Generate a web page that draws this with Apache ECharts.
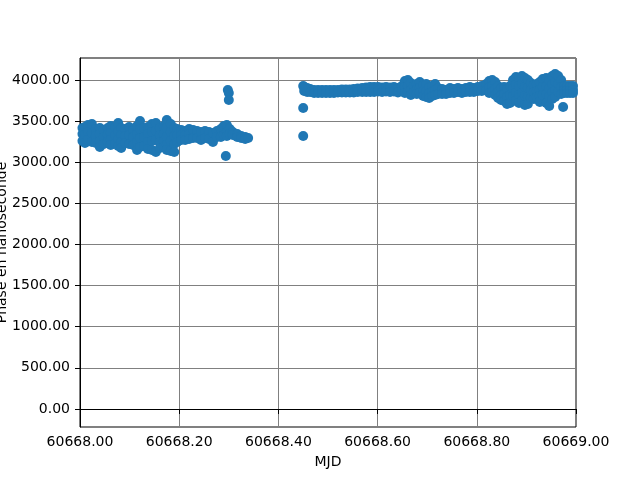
<!DOCTYPE html>
<html>
<head>
<meta charset="utf-8">
<script src="https://cdn.jsdelivr.net/npm/echarts@6/dist/echarts.min.js"></script>
<style>
  html, body { margin: 0; padding: 0; background: #fff; }
  #chart { width: 640px; height: 480px; }
</style>
</head>
<body>
<div id="chart"></div>
<script>
// values: for each MJD, the phases stacked at that time
const runATimes = [60668.005, 60668.010, 60668.016, 60668.024, 60668.032, 60668.040, 60668.048, 60668.056,
  60668.062, 60668.071, 60668.077, 60668.083, 60668.091, 60668.099, 60668.107, 60668.115, 60668.121,
  60668.129, 60668.137, 60668.145, 60668.153, 60668.161, 60668.169, 60668.175, 60668.183, 60668.190,
  60668.196, 60668.204, 60668.212, 60668.220, 60668.228, 60668.236, 60668.244, 60668.252, 60668.260,
  60668.268, 60668.276, 60668.284, 60668.290, 60668.296, 60668.302, 60668.308, 60668.317, 60668.325,
  60668.333, 60668.339];
const runAPhases = [
  [3416, 3343, 3258], [3429, 3331, 3234], [3453, 3368, 3271], [3465, 3356, 3246], [3404, 3319, 3234],
  [3416, 3343, 3258, 3185], [3392, 3307, 3222], [3416, 3331, 3246], [3441, 3356, 3271, 3210],
  [3429, 3331, 3234], [3477, 3380, 3283, 3198], [3416, 3331, 3246, 3173], [3404, 3319, 3234],
  [3429, 3331, 3222], [3392, 3307, 3210], [3441, 3343, 3246, 3149], [3501, 3404, 3295, 3185],
  [3416, 3307, 3198], [3429, 3343, 3246, 3161], [3465, 3368, 3258, 3149], [3477, 3380, 3271, 3125],
  [3416, 3331, 3246, 3173], [3441, 3343, 3258, 3185], [3514, 3416, 3307, 3210, 3149],
  [3465, 3368, 3258, 3137], [3416, 3319, 3222, 3125], [3404, 3331, 3246], [3392, 3331, 3271],
  [3380, 3331, 3271], [3404, 3343, 3283], [3392, 3295], [3380, 3295], [3368, 3271], [3380, 3295],
  [3368, 3283], [3356, 3246], [3380, 3307], [3404, 3307], [3441, 3331], [3453, 3368, 3319],
  [3404, 3343], [3368, 3331], [3343, 3307], [3319, 3295], [3307, 3283], [3295]
];

const runBTimes = [60668.452, 60668.458, 60668.464, 60668.472, 60668.480, 60668.488, 60668.496, 60668.504,
  60668.512, 60668.520, 60668.528, 60668.536, 60668.544, 60668.552, 60668.560, 60668.569, 60668.577,
  60668.585, 60668.593, 60668.601, 60668.609, 60668.617, 60668.625, 60668.633, 60668.641, 60668.649,
  60668.655, 60668.661, 60668.667, 60668.673, 60668.679, 60668.685, 60668.692, 60668.698, 60668.704,
  60668.710, 60668.716, 60668.722, 60668.730, 60668.738, 60668.746, 60668.754, 60668.762, 60668.770,
  60668.778, 60668.786, 60668.794, 60668.802, 60668.810, 60668.819, 60668.825, 60668.831, 60668.837,
  60668.843, 60668.849, 60668.855, 60668.861, 60668.867, 60668.873, 60668.879, 60668.885, 60668.891,
  60668.897, 60668.903, 60668.909, 60668.915, 60668.921, 60668.927, 60668.933, 60668.940, 60668.946,
  60668.952, 60668.958, 60668.964, 60668.970, 60668.976, 60668.982, 60668.988, 60668.994];
const runBPhases = [
  [3915, 3866], [3903, 3854], [3891, 3854], [3878, 3842], [3878, 3842], [3878, 3842], [3878, 3842],
  [3878, 3842], [3878, 3842], [3878, 3848], [3885, 3848], [3885, 3848], [3885, 3848], [3891, 3848],
  [3897, 3854], [3903, 3854], [3909, 3854], [3915, 3854], [3915, 3854], [3915, 3860], [3909, 3854],
  [3915, 3860], [3909, 3854], [3915, 3860], [3903, 3848], [3927, 3866], [3988, 3915, 3842],
  [4000, 3927, 3854], [3964, 3878, 3818], [3927, 3854], [3951, 3878, 3830], [3976, 3903, 3842],
  [3939, 3866, 3805], [3951, 3866, 3793], [3915, 3842, 3781], [3927, 3854, 3805], [3951, 3878, 3818],
  [3903, 3830], [3891, 3830], [3878, 3830], [3903, 3842], [3891, 3842], [3903, 3854], [3891, 3842],
  [3903, 3854], [3915, 3854], [3903, 3854], [3915, 3866], [3927, 3866], [3951, 3878],
  [3988, 3915, 3842], [4000, 3927, 3854], [3976, 3891, 3818], [3927, 3854, 3781], [3903, 3818, 3757],
  [3915, 3830, 3745], [3891, 3793, 3708], [3927, 3818, 3720], [4000, 3903, 3805],
  [4036, 3939, 3842, 3745], [4024, 3927, 3818, 3720], [4049, 3951, 3842, 3745],
  [4024, 3915, 3805, 3696], [4000, 3903, 3793, 3708], [3964, 3878, 3781], [3939, 3854, 3769],
  [3951, 3866, 3793], [3976, 3878, 3805, 3733], [4012, 3915, 3818], [4024, 3927, 3830, 3720],
  [4000, 3903, 3805, 3684], [4049, 3951, 3854, 3769], [4073, 3976, 3878, 3793], [4049, 3951, 3854],
  [4000, 3915, 3830], [3927, 3878, 3842], [3927, 3878, 3842], [3927, 3878, 3842], [3927, 3878, 3842]
];

// isolated points
const outlierTimes = [60668.294, 60668.298, 60668.300, 60668.300, 60668.450, 60668.450, 60668.450, 60668.974];
const outlierPhases = [3076, 3878, 3842, 3757, 3927, 3660, 3319, 3672];

const xTicks = { min: 60668, max: 60669, step: 0.2 };

let points = [];
function addRun(times, phases) {
  times.forEach((t, i) => {
    phases[i].forEach(p => points.push([t, p]));
  });
}
addRun(runATimes, runAPhases);
addRun(runBTimes, runBPhases);
outlierTimes.forEach((t, i) => points.push([t, outlierPhases[i]]));

const font = 'DejaVu Sans';
let chart = echarts.init(document.getElementById('chart'), null, {renderer: 'canvas'});
chart.setOption({
  animation: false,
  grid: {
    left: 80, right: 64, top: 58, bottom: 53,
    containLabel: false,
    outerBoundsMode: 'none',
    show: true, borderColor: '#000', borderWidth: 1
  },
  xAxis: {
    type: 'value',
    min: xTicks.min,
    max: xTicks.max,
    interval: xTicks.step,
    name: 'MJD',
    nameLocation: 'middle',
    nameGap: 28,
    nameMoveOverlap: false,
    nameTextStyle: {color: '#000', fontFamily: font, fontSize: 14},
    axisLine: {lineStyle: {color: '#000'}},
    axisTick: {length: 5, lineStyle: {color: '#000'}},
    axisLabel: {
      color: '#000', fontFamily: font, fontSize: 14, margin: 8,
      formatter: v => v.toFixed(2)
    },
    splitLine: {show: true, lineStyle: {color: '#808080', width: 1}}
  },
  yAxis: {
    type: 'value',
    min: -219,
    max: 4267,
    splitNumber: 9,
    minInterval: 500,
    maxInterval: 500,
    name: 'Phase en nanoseconde',
    nameLocation: 'middle',
    nameGap: 71,
    nameMoveOverlap: false,
    nameTextStyle: {color: '#000', fontFamily: font, fontSize: 14},
    axisLine: {show: true, lineStyle: {color: '#000'}},
    axisTick: {show: true, length: 5, lineStyle: {color: '#000'}},
    axisLabel: {
      color: '#000', fontFamily: font, fontSize: 14, margin: 10,
      showMinLabel: false, showMaxLabel: false,
      formatter: v => v.toFixed(2)
    },
    splitLine: {show: true, lineStyle: {color: '#808080', width: 1}}
  },
  series: [{
    type: 'scatter',
    data: points,
    symbolSize: 10,
    itemStyle: {color: '#1f77b4', opacity: 1}
  }]
});
</script>
</body>
</html>
